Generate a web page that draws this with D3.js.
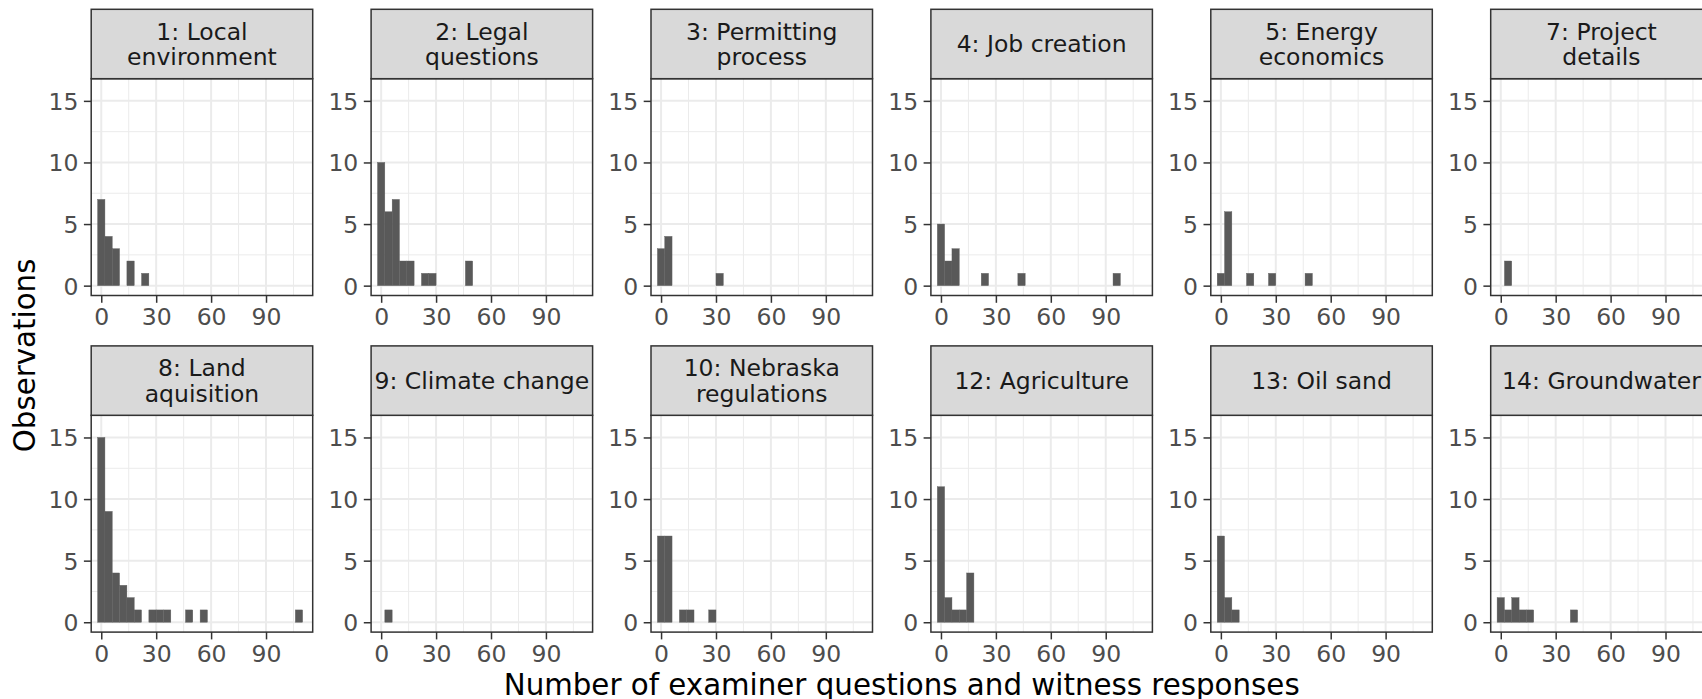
<!DOCTYPE html>
<html>
<head>
<meta charset="utf-8">
<script src="https://cdn.jsdelivr.net/npm/d3@7/dist/d3.min.js"></script>
<style>
html,body{margin:0;padding:0;background:#fff;overflow:hidden;}
svg{display:block;font-family:"DejaVu Sans",sans-serif;}
</style>
</head>
<body>
<svg id="chart" width="1702" height="699"></svg>
<script>
// ---- data (bin centres, bin width 4) ----
const facetLabels = [
  ["1: Local", "environment"],
  ["2: Legal", "questions"],
  ["3: Permitting", "process"],
  ["4: Job creation"],
  ["5: Energy", "economics"],
  ["7: Project", "details"],
  ["8: Land", "aquisition"],
  ["9: Climate change"],
  ["10: Nebraska", "regulations"],
  ["12: Agriculture"],
  ["13: Oil sand"],
  ["14: Groundwater"]
];
const binCenters = [
  [0, 4, 8, 16, 24],
  [0, 4, 8, 12, 16, 24, 28, 48],
  [0, 4, 32],
  [0, 4, 8, 24, 44, 96],
  [0, 4, 16, 28, 48],
  [4],
  [0, 4, 8, 12, 16, 20, 28, 32, 36, 48, 56, 108],
  [4],
  [0, 4, 12, 16, 28],
  [0, 4, 8, 12, 16],
  [0, 4, 8],
  [0, 4, 8, 12, 16, 40]
];
const binCounts = [
  [7, 4, 3, 2, 1],
  [10, 6, 7, 2, 2, 1, 1, 2],
  [3, 4, 1],
  [5, 2, 3, 1, 1, 1],
  [1, 6, 1, 1, 1],
  [2],
  [15, 9, 4, 3, 2, 1, 1, 1, 1, 1, 1, 1],
  [1],
  [7, 7, 1, 1, 1],
  [11, 2, 1, 1, 4],
  [7, 2, 1],
  [2, 1, 2, 1, 1, 1]
];
const binWidth = 4;
const xTicks = [0, 30, 60, 90];
const xMinor = [15, 45, 75, 105];
const yTicks = [0, 5, 10, 15];
const yMinor = [2.5, 7.5, 12.5];
const xTitle = "Number of examiner questions and witness responses";
const yTitle = "Observations";

// ---- layout ----
const nCols = 6;
const col0 = 91.2, colStep = 279.9, panelW = 221.5;
const rowTops = [78.7, 415.3], panelH = 216.8, stripH = 69.4;
const tickFont = 23.5, stripFont = 23.5, titleFont = 29.3;

const svg = d3.select("#chart");
const x = d3.scaleLinear().domain([-5.5, 115.5]).range([0, panelW]);
const y = d3.scaleLinear().domain([-0.8, 16.8]).range([panelH, 0]);

facetLabels.forEach((lab, i) => {
  const r = Math.floor(i / nCols), c = i % nCols;
  const px = col0 + c * colStep, py = rowTops[r];
  const g = svg.append("g").attr("transform", `translate(${px},${py})`);

  // panel background
  g.append("rect").attr("width", panelW).attr("height", panelH).attr("fill", "#fff");
  // minor grid
  g.selectAll(".xm").data(xMinor).join("line")
    .attr("x1", d => x(d)).attr("x2", d => x(d)).attr("y1", 0).attr("y2", panelH)
    .attr("stroke", "#ebebeb").attr("stroke-width", 1);
  g.selectAll(".ym").data(yMinor).join("line")
    .attr("y1", d => y(d)).attr("y2", d => y(d)).attr("x1", 0).attr("x2", panelW)
    .attr("stroke", "#ebebeb").attr("stroke-width", 1);
  // major grid
  g.selectAll(".xg").data(xTicks).join("line")
    .attr("x1", d => x(d)).attr("x2", d => x(d)).attr("y1", 0).attr("y2", panelH)
    .attr("stroke", "#ebebeb").attr("stroke-width", 2);
  g.selectAll(".yg").data(yTicks).join("line")
    .attr("y1", d => y(d)).attr("y2", d => y(d)).attr("x1", 0).attr("x2", panelW)
    .attr("stroke", "#ebebeb").attr("stroke-width", 2);

  // bars
  const data = binCenters[i].map((cx, k) => ({cx, n: binCounts[i][k]}));
  g.selectAll(".bar").data(data).join("rect")
    .attr("x", d => x(d.cx - binWidth / 2))
    .attr("width", d => x(d.cx + binWidth / 2) - x(d.cx - binWidth / 2))
    .attr("y", d => y(d.n))
    .attr("height", d => y(0) - y(d.n))
    .attr("fill", "#595959")
    .attr("stroke", "#5f5f5f").attr("stroke-width", 0.4);

  // panel border
  g.append("rect").attr("width", panelW).attr("height", panelH)
    .attr("fill", "none").attr("stroke", "#333333").attr("stroke-width", 1.5);

  // axes
  const yAxis = d3.axisLeft(y).tickValues(yTicks).tickSize(7.3).tickPadding(5.5);
  const ya = g.append("g").call(yAxis);
  const xAxis = d3.axisBottom(x).tickValues(xTicks).tickSize(7.3).tickPadding(5.5);
  const xa = g.append("g").attr("transform", `translate(0,${panelH})`).call(xAxis);
  [ya, xa].forEach(a => {
    a.select(".domain").remove();
    a.selectAll(".tick line").attr("stroke", "#333333").attr("stroke-width", 1.5);
    a.selectAll(".tick text").attr("fill", "#4d4d4d")
      .style("font-size", tickFont + "px").style("font-family", "DejaVu Sans");
  });
  ya.selectAll(".tick text").attr("dy", "0.36em");
  xa.selectAll(".tick text").attr("dy", "0.73em");

  // strip
  const s = g.append("g").attr("transform", `translate(0,${-stripH})`);
  s.append("rect").attr("width", panelW).attr("height", stripH)
    .attr("fill", "#d9d9d9").attr("stroke", "#333333").attr("stroke-width", 1.5);
  const cy = stripH / 2 + 8.3;
  const lh = 25.4;
  const off = (lab.length - 1) * lh / 2;
  s.selectAll(".st").data(lab).join("text")
    .attr("x", panelW / 2)
    .attr("y", (d, k) => cy - off + k * lh)
    .attr("text-anchor", "middle")
    .attr("fill", "#1a1a1a")
    .style("font-size", stripFont + "px")
    .text(d => d);
});

// axis titles
const plotCenterX = col0 + ((nCols - 1) * colStep + panelW) / 2;
svg.append("text")
  .attr("x", plotCenterX).attr("y", 695)
  .attr("text-anchor", "middle").attr("fill", "#000")
  .style("font-size", titleFont + "px")
  .text(xTitle);
const midY = (rowTops[0] + rowTops[1] + panelH) / 2;
svg.append("text")
  .attr("transform", `translate(35,${midY}) rotate(-90)`)
  .attr("text-anchor", "middle").attr("fill", "#000")
  .style("font-size", titleFont + "px")
  .text(yTitle);
</script>
</body>
</html>
